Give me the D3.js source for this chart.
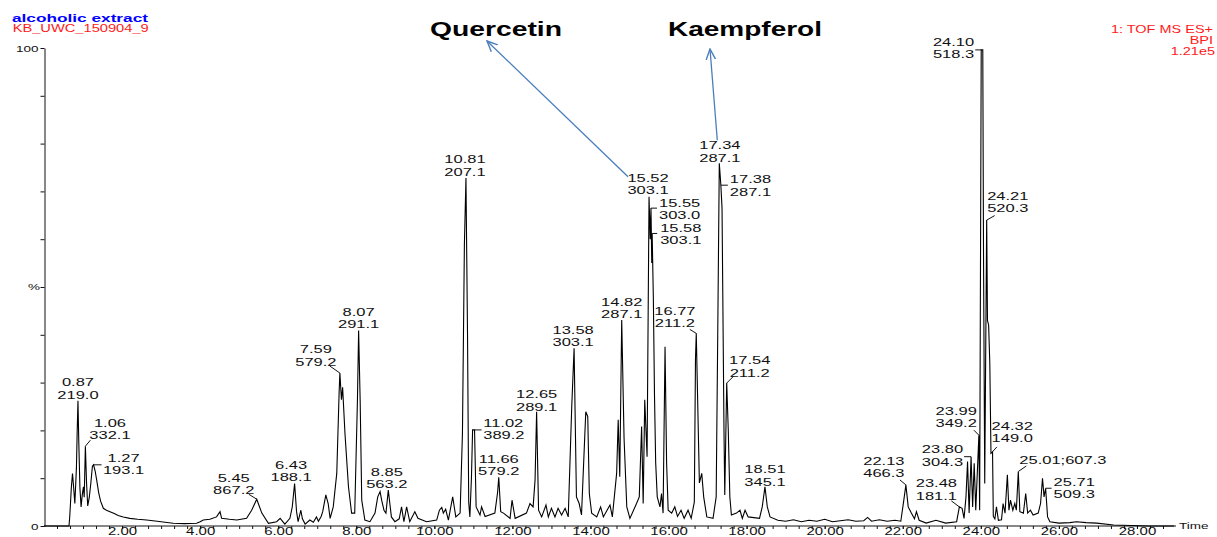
<!DOCTYPE html>
<html lang="en">
<head>
<meta charset="UTF-8">
<title>alcoholic extract - BPI chromatogram</title>
<script src="https://d3js.org/d3.v7.min.js"></script>
<style>
  body { margin: 0; background: #fff; }
  svg { display: block; font-family: "Liberation Sans", Arial, sans-serif; }
  .peak-label { font-size: 11px; fill: #111; }
  .axis-text { font-size: 9px; fill: #111; }
  .x-label { font-size: 10px; fill: #111; }
</style>
</head>
<body>
<svg id="chart" width="1217" height="537"></svg>
<script>
// trace: [retention time (min), relative intensity (%)]
var trace = [
  [0.00, 0], [0.64, 0], [0.66, 2.0], [0.70, 8], [0.73, 11.0], [0.76, 8], [0.79, 4.7],
  [0.83, 12], [0.85, 19.7], [0.87, 26.2], [0.89, 18], [0.92, 8], [0.95, 4.0], [0.98, 6.5],
  [1.01, 8.2], [1.03, 6], [1.06, 16.7], [1.09, 9], [1.12, 4.2], [1.16, 6], [1.20, 9.0],
  [1.24, 12.5], [1.27, 12.8], [1.31, 11.5], [1.35, 9.6], [1.40, 7.0], [1.45, 5.2], [1.52, 3.7],
  [1.60, 3.3], [1.69, 3.0], [1.80, 2.6], [1.90, 2.2], [2.03, 1.9], [2.20, 1.6], [2.40, 1.4],
  [2.63, 1.25], [2.90, 1.0], [3.10, 0.8], [3.31, 0.56], [3.60, 0.5], [3.91, 0.56], [4.00, 0.9],
  [4.08, 1.25], [4.25, 1.4], [4.42, 1.9], [4.51, 3.0], [4.55, 1.6], [4.75, 1.4], [4.94, 1.25],
  [5.19, 1.6], [5.32, 3.3], [5.45, 5.6], [5.58, 2.7], [5.75, 0.56], [5.96, 0.9], [6.05, 1.6],
  [6.17, 0.4], [6.30, 1.6], [6.36, 4], [6.42, 8.9], [6.47, 3], [6.51, 0.9], [6.58, 3.3],
  [6.62, 1.5], [6.69, 0.4], [6.81, 1.25], [6.90, 0.8], [6.98, 1.9], [7.03, 1.0], [7.10, 2.0],
  [7.14, 3.0], [7.22, 6.5], [7.28, 4.7], [7.33, 1.6], [7.41, 4.0], [7.50, 11], [7.56, 27.8],
  [7.58, 32.0], [7.62, 26.4], [7.65, 29], [7.71, 19.4], [7.80, 8.2], [7.88, 2.7], [7.96, 2.7],
  [8.03, 26.4], [8.06, 40.9], [8.10, 26], [8.14, 5.4], [8.22, 1.25], [8.35, 0.9], [8.48, 2.7],
  [8.55, 6.1], [8.61, 7.2], [8.65, 5.4], [8.71, 3.3], [8.76, 2.7], [8.82, 7.5], [8.90, 1.9],
  [8.99, 0.9], [9.10, 1.5], [9.16, 4.0], [9.22, 0.9], [9.29, 4.0], [9.37, 0.9], [9.50, 3.0],
  [9.58, 1.6], [9.80, 0.9], [10.06, 1.25], [10.13, 3.3], [10.19, 3.9], [10.23, 2.7], [10.29, 3.5],
  [10.36, 1.25], [10.47, 6.1], [10.55, 1.9], [10.66, 2.7], [10.72, 19.4], [10.77, 59], [10.81, 72.8],
  [10.85, 40], [10.88, 5], [10.91, 1.9], [10.95, 10], [10.98, 20.1], [11.03, 20.1], [11.07, 4],
  [11.17, 2.3], [11.21, 4], [11.30, 2.0], [11.55, 2.7], [11.62, 7], [11.65, 10.2], [11.70, 3],
  [11.77, 2.7], [11.94, 1.6], [11.99, 5.4], [12.07, 1.6], [12.36, 2.7], [12.45, 4.7], [12.53, 4.0],
  [12.58, 9.6], [12.62, 23.9], [12.67, 3.3], [12.75, 1.9], [12.86, 4.4], [12.92, 1.9], [13.00, 3.7],
  [13.09, 1.9], [13.17, 3.7], [13.26, 2.3], [13.35, 3.7], [13.43, 1.9], [13.52, 25], [13.58, 37.2],
  [13.64, 6.1], [13.71, 4.7], [13.77, 2.3], [13.86, 20.1], [13.88, 23.9], [13.93, 22.9], [13.97, 6.8],
  [14.03, 2.7], [14.16, 1.9], [14.26, 4.0], [14.33, 1.9], [14.50, 4.4], [14.56, 1.9], [14.67, 11],
  [14.71, 22.2], [14.75, 10.3], [14.80, 43.1], [14.86, 18.4], [14.93, 4.0], [15.01, 1.6], [15.18, 4.7],
  [15.25, 6.1], [15.31, 20.8], [15.35, 4.7], [15.39, 26.4], [15.45, 14.5], [15.50, 68.9], [15.53, 60],
  [15.55, 66.5], [15.57, 55], [15.58, 61.2], [15.61, 48], [15.64, 27.3], [15.67, 13.3], [15.71, 6.1],
  [15.78, 4.0], [15.82, 6.8], [15.86, 2.7], [15.91, 37.5], [15.95, 13.3], [15.99, 3.3], [16.08, 2.7],
  [16.16, 4.0], [16.23, 2.0], [16.32, 3.3], [16.40, 1.6], [16.50, 3.3], [16.58, 1.6], [16.66, 5],
  [16.69, 35], [16.71, 40.3], [16.79, 9.0], [16.85, 11], [16.90, 6.1], [16.98, 1.9], [17.14, 1.6],
  [17.22, 6.1], [17.26, 40], [17.30, 75.9], [17.34, 71.3], [17.37, 66.5], [17.42, 20.1], [17.44, 6.5],
  [17.49, 29.9], [17.53, 20.1], [17.57, 6.1], [17.61, 2.3], [17.74, 2.7], [17.83, 3.3], [17.89, 1.6],
  [17.96, 3.3], [18.04, 1.9], [18.33, 1.6], [18.40, 4.0], [18.47, 8.2], [18.53, 4.0], [18.60, 1.9],
  [18.80, 1.2], [19.00, 1.0], [19.20, 1.3], [19.40, 0.9], [19.60, 1.2], [19.80, 1.0], [20.00, 1.4],
  [20.20, 0.9], [20.40, 1.1], [20.60, 1.3], [20.80, 1.0], [21.00, 1.1], [21.10, 1.8], [21.20, 1.0],
  [21.40, 1.3], [21.60, 1.0], [21.80, 1.2], [21.95, 1.0], [22.02, 5], [22.08, 8.6], [22.14, 4.0],
  [22.22, 2.7], [22.30, 1.5], [22.35, 3.0], [22.42, 1.2], [22.60, 0.6], [22.85, 1.2], [23.10, 0.6],
  [23.38, 0.9], [23.45, 4.0], [23.52, 3.7], [23.57, 1.6], [23.62, 6.1], [23.66, 13.5], [23.70, 2.7],
  [23.75, 14.5], [23.79, 4.0], [23.83, 13.1], [23.87, 3.3], [23.95, 19.0], [23.97, 3.3], [24.01, 99.6],
  [24.05, 99.6], [24.07, 55], [24.10, 8.9], [24.15, 64], [24.17, 43], [24.20, 42], [24.23, 34],
  [24.26, 15.2], [24.30, 15.5], [24.32, 2.0], [24.36, 1.5], [24.40, 4.0], [24.45, 1.2], [24.53, 1.3],
  [24.57, 4.7], [24.62, 2.7], [24.68, 10.7], [24.72, 3.3], [24.76, 5.4], [24.82, 3.3], [24.87, 4.7],
  [24.91, 3.3], [24.96, 11.4], [25.00, 3.0], [25.09, 2.7], [25.15, 6.8], [25.20, 2.7], [25.27, 3.3],
  [25.34, 2.3], [25.47, 2.7], [25.53, 4.7], [25.58, 10], [25.62, 6.1], [25.66, 7.9], [25.71, 1.9],
  [25.77, 0.9], [26.00, 0.6], [26.28, 0.7], [26.45, 0.9], [26.70, 0.7], [26.97, 0.6], [27.40, 0.2],
  [27.85, 0.1], [28.30, 0.0], [28.95, 0.0]
];

// peak annotations: retention time and base-peak m/z as printed
var peakTimes = ["0.87", "1.06", "1.27", "5.45", "6.43", "7.59", "8.07", "8.85", "10.81", "11.02",
  "11.66", "12.65", "13.58", "14.82", "15.52", "15.55", "15.58", "16.77", "17.34", "17.38",
  "17.54", "18.51", "22.13", "23.48", "23.80", "23.99", "24.10", "24.21", "24.32", "25.01", "25.71"];
var peakMasses = ["219.0", "332.1", "193.1", "867.2", "188.1", "579.2", "291.1", "563.2", "207.1", "389.2",
  "579.2", "289.1", "303.1", "287.1", "303.1", "303.0", "303.1", "211.2", "287.1", "287.1",
  "211.2", "345.1", "466.3", "181.1", "304.3", "349.2", "518.3", "520.3", "149.0", "607.3", "509.3"];
// point of the trace each label belongs to
var peakApex = [[0.87, 26.2], [1.06, 16.7], [1.27, 12.8], [5.45, 5.6], [6.42, 8.9], [7.58, 32.0],
  [8.06, 40.9], [8.82, 7.5], [10.81, 72.8], [11.03, 20.1], [11.65, 10.2], [12.62, 23.9], [13.58, 37.2],
  [14.80, 43.1], [15.50, 68.9], [15.55, 66.5], [15.58, 61.2], [16.71, 40.3], [17.30, 75.9], [17.34, 71.3],
  [17.49, 29.9], [18.47, 8.2], [22.08, 8.6], [23.45, 4.0], [23.75, 14.5], [23.95, 19.0], [24.01, 99.6],
  [24.15, 64], [24.26, 15.2], [24.96, 11.4], [25.66, 7.9]];

var xTickLabels = [2, 4, 6, 8, 10, 12, 14, 16, 18, 20, 22, 24, 26, 28];
var compounds = ["Quercetin", "Kaempferol"];

// label placement (pixels, relative to apex): text offset, anchor, leader end
var labelLayout = [
  [0, -14.5, "middle", 0, 0], [24.6, -19.2, "middle", 5, -6], [30, -3.1, "middle", 8, 0],
  [-23, -17.5, "middle", -8, -5], [-3.5, -14.5, "middle", 0, 0], [-24, -19.7, "middle", -10, -7],
  [0, -14.8, "middle", 0, 0], [-1.5, -14.5, "middle", 0, 0], [-1, -14.6, "middle", 0, 0],
  [8.7, -3.2, "start", 7, 0], [0, -14.5, "middle", 0, 0], [0, -13.5, "middle", 0, 0],
  [-1, -14.2, "middle", 0, 0], [0, -14, "middle", 0, 0], [-1, -14.7, "middle", 0, 0],
  [8, -1.4, "start", 6, 0], [8, -1.8, "start", 5, 0], [-21.4, -18.4, "middle", -6.5, -4],
  [0.6, -13.9, "middle", 0, 0], [9, -1.9, "start", 7, 0], [23, -18.8, "middle", 7, -7],
  [0, -13.5, "middle", 0, 0], [-22, -20, "middle", -6, -5], [-23, -19.6, "middle", -8, -6],
  [-8, -3.4, "end", -7, 0], [-2, -20.2, "end", -5, -5], [-7, -4.2, "end", -6, 0],
  [0.5, -20.1, "start", 8, -4.5], [0.6, -23.3, "start", 6, -6.5], [1, -7.2, "inline", 8, -5.5],
  [8, -2.2, "start", 6, 0]
];

var width = 1217, height = 537;
var sx = 1.5;      // the original print is stretched horizontally
var lineGap = 12.3;

var svg = d3.select("#chart");
svg.append("rect").attr("width", width).attr("height", height).attr("fill", "#fff");

var x = d3.scaleLinear().domain([0, 29]).range([44, 1176]);
var y = d3.scaleLinear().domain([0, 100]).range([526, 48]);

// axes

var xMinor = d3.axisBottom(x).tickValues(d3.range(1, 87).map(function(i) { return i / 3; }))
  .tickSize(3).tickSizeOuter(0).tickFormat("");
svg.append("g").attr("transform", "translate(0,526)").call(xMinor)
  .call(function(g) { g.select(".domain").remove(); });

var xAxis = d3.axisBottom(x).tickValues(xTickLabels).tickSize(3).tickSizeOuter(0)
  .tickFormat(d3.format(".2f"));
var gx = svg.append("g").attr("transform", "translate(0,526)").call(xAxis);
gx.select(".domain").attr("d", "M44,0H1176");
gx.selectAll("text").attr("class", "x-label").attr("y", 9.5).attr("dy", null)
  .attr("transform", "scale(" + sx + ",1)").attr("font-size", null).attr("font-family", null);

var yAxis = d3.axisLeft(y).tickValues(d3.range(0, 101, 10)).tickSize(4).tickSizeOuter(0)
  .tickFormat(function(d) { return d === 0 || d === 100 ? d : ""; });
var gy = svg.append("g").attr("transform", "translate(44.5,0)").call(yAxis);
gy.selectAll("text").attr("class", "axis-text").attr("x", -4).attr("dy", "0.35em")
  .attr("transform", "scale(" + sx + ",1)").attr("font-size", null).attr("font-family", null);
svg.selectAll(".tick line, .domain").attr("stroke", "#111");

svg.append("text").attr("class", "axis-text")
  .attr("transform", "translate(34," + (y(50) + 3) + ") scale(" + sx + ",1)")
  .attr("text-anchor", "middle").text("%");
svg.append("text").attr("class", "axis-text")
  .attr("transform", "translate(1179,529) scale(" + sx + ",1)").text("Time");

// chromatogram trace

var line = d3.line().x(function(d) { return x(d[0]); }).y(function(d) { return y(d[1]); });
svg.append("path").datum(trace).attr("d", line)
  .attr("fill", "none").attr("stroke", "#000").attr("stroke-width", 1.1)
  .attr("stroke-linejoin", "miter");

// peak labels

var labels = svg.append("g");
peakTimes.forEach(function(t, i) {
  var px = x(peakApex[i][0]), py = y(peakApex[i][1]);
  var L = labelLayout[i];
  var anchor = L[2] === "inline" ? "start" : L[2];
  if (L[3] !== 0 || L[4] !== 0) {
    labels.append("line").attr("x1", px).attr("y1", py)
      .attr("x2", px + L[3]).attr("y2", py + L[4])
      .attr("stroke", "#111").attr("stroke-width", 1);
  }
  var lines = L[2] === "inline" ? [t + ";" + peakMasses[i]] : [t, peakMasses[i]];
  lines.forEach(function(s, k) {
    labels.append("text").attr("class", "peak-label")
      .attr("text-anchor", anchor)
      .attr("transform", "translate(" + (px + L[0]) + "," + (py + L[1] + k * lineGap) + ") scale(" + sx + ",1)")
      .text(s);
  });
});

// header texts

svg.append("text").attr("x", 12).attr("y", 21.5).attr("fill", "#0000ff")
  .attr("font-weight", "bold").attr("font-size", 11)
  .attr("textLength", 136).attr("lengthAdjust", "spacingAndGlyphs").text("alcoholic extract");
svg.append("text").attr("x", 12.7).attr("y", 31.7).attr("fill", "#ff1a1a").attr("font-size", 10.5)
  .attr("textLength", 136).attr("lengthAdjust", "spacingAndGlyphs").text("KB_UWC_150904_9");

var right = ["1: TOF MS ES+", "BPI", "1.21e5"];
right.forEach(function(s, i) {
  svg.append("text").attr("fill", "#ff1a1a").attr("font-size", 10).attr("text-anchor", "end")
    .attr("transform", "translate(" + (i === 2 ? 1215 : 1213) + "," + (33 + i * 11) + ") scale(1.45,1)")
    .text(s);
});

// compound call-outs with arrows

svg.append("defs").append("marker").attr("id", "head")
  .attr("viewBox", "0 -5 10 10").attr("refX", 9).attr("refY", 0)
  .attr("markerWidth", 9).attr("markerHeight", 9).attr("orient", "auto")
  .append("path").attr("d", "M0,-4L9,0L0,4").attr("fill", "none")
  .attr("stroke", "#4a7ebb").attr("stroke-width", 1.2);

var callouts = [
  { name: compounds[0], apex: peakApex[14], tail: [-21, -20], tip: [487, 41], tx: 430, len: 132 },
  { name: compounds[1], apex: peakApex[18], tail: [-2, -23], tip: [710, 49], tx: 668, len: 154 }
];
callouts.forEach(function(c) {
  var px = x(c.apex[0]), py = y(c.apex[1]);
  svg.append("line").attr("x1", px + c.tail[0]).attr("y1", py + c.tail[1])
    .attr("x2", c.tip[0]).attr("y2", c.tip[1])
    .attr("stroke", "#4a7ebb").attr("stroke-width", 1.3).attr("marker-end", "url(#head)");
  svg.append("text").attr("x", c.tx).attr("y", 36).attr("font-weight", "bold")
    .attr("font-size", 20).attr("fill", "#000")
    .attr("textLength", c.len).attr("lengthAdjust", "spacingAndGlyphs").text(c.name);
});
</script>
</body>
</html>
